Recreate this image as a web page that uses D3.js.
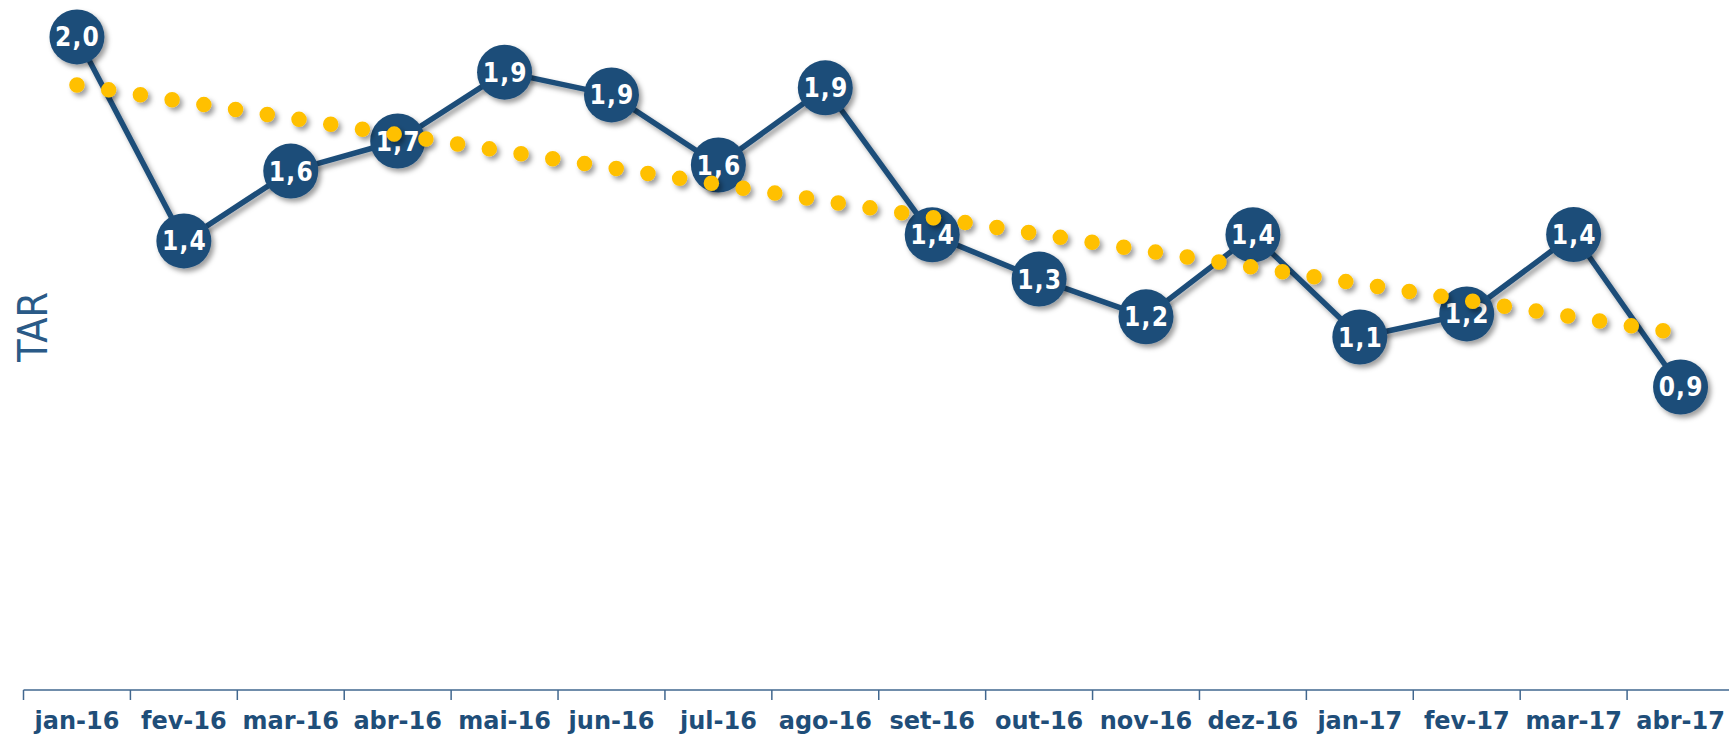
<!DOCTYPE html>
<html>
<head>
<meta charset="utf-8">
<script src="https://cdn.jsdelivr.net/npm/d3@7"></script>
<style>
  html, body { margin: 0; padding: 0; background: #ffffff; overflow: hidden; }
  svg { display: block; }
</style>
</head>
<body>
<svg id="chart" width="1729" height="738"></svg>
<script>
// ---- data ----
const categories = ["jan-16","fev-16","mar-16","abr-16","mai-16","jun-16","jul-16","ago-16",
                    "set-16","out-16","nov-16","dez-16","jan-17","fev-17","mar-17","abr-17"];
const tarValues = [2.039, 1.402, 1.620, 1.714, 1.929, 1.858, 1.639, 1.880,
                   1.421, 1.283, 1.165, 1.421, 1.102, 1.174, 1.422, 0.946];
// linear trend line endpoints (first and last category)
const trendCategories = ["jan-16", "abr-17"];
const trendValues = [1.889, 1.113];
const yAxisTitle = "TAR";

// ---- layout ----
const width = 1729, height = 738;
const svg = d3.select("#chart");
const blue = "#1F4E79";
const gold = "#FFC000";

const x = d3.scaleBand().domain(categories).range([23.5, 1734]).paddingInner(0).paddingOuter(0);
const y = d3.scaleLinear().domain([0, 2.0]).range([690, 49.4]);
const cx = d => x(d) + x.bandwidth() / 2;

const defs = svg.append("defs");
const f = defs.append("filter").attr("id", "shadow")
  .attr("x", "-30%").attr("y", "-30%").attr("width", "160%").attr("height", "160%");
f.append("feDropShadow").attr("dx", 3).attr("dy", 3.5).attr("stdDeviation", 2.6)
  .attr("flood-color", "#000").attr("flood-opacity", 0.38);

// ---- x axis ----
const xAxis = d3.axisBottom(x).tickSize(0).tickPadding(0).tickFormat(d => d);
const gx = svg.append("g").attr("transform", "translate(0,690)").call(xAxis);
gx.select(".domain").attr("stroke", "#41678F").attr("stroke-width", 1.5)
  .attr("d", "M23.5,0H1734");
gx.selectAll(".tick line").remove();
gx.selectAll(".tick text")
  .attr("y", 39).attr("dy", null)
  .attr("fill", blue)
  .attr("font-family", "'DejaVu Sans', sans-serif")
  .attr("font-weight", "bold")
  .attr("font-size", 24);
// tick marks on band boundaries
gx.selectAll(".bound").data(categories).enter().append("line")
  .attr("class", "bound")
  .attr("x1", d => x(d)).attr("x2", d => x(d))
  .attr("y1", 0).attr("y2", 10)
  .attr("stroke", "#41678F").attr("stroke-width", 1.5);

// ---- y title ----
svg.append("text")
  .attr("transform", "translate(47,327) rotate(-90)")
  .attr("text-anchor", "middle")
  .attr("fill", "#2A5A87")
  .attr("font-family", "'DejaVu Sans Condensed', 'DejaVu Sans', sans-serif")
  .attr("font-size", 41)
  .text(yAxisTitle);

// ---- main series ----
const line = d3.line().x((d, i) => cx(categories[i])).y(d => y(d));
svg.append("path")
  .datum(tarValues)
  .attr("d", line)
  .attr("fill", "none")
  .attr("stroke", blue)
  .attr("stroke-width", 5.5)
  .attr("stroke-linejoin", "round")
  .attr("filter", "url(#shadow)");

const pts = svg.append("g").selectAll("g").data(tarValues).enter().append("g")
  .attr("transform", (d, i) => `translate(${cx(categories[i])},${y(d)})`);
pts.append("circle").attr("r", 27.5).attr("fill", blue).attr("filter", "url(#shadow)");
const fmt = d3.format(".1f");
pts.append("text")
  .attr("text-anchor", "middle")
  .attr("x", 0.6)
  .attr("dy", 9.5)
  .attr("fill", "#ffffff")
  .attr("font-family", "'DejaVu Sans Condensed', 'DejaVu Sans', sans-serif")
  .attr("font-weight", "bold")
  .attr("font-size", 26)
  .attr("letter-spacing", 1.2)
  .text(d => fmt(d).replace(".", ","));

// ---- trend line (dotted) ----
const trendLine = d3.line().x((d, i) => cx(trendCategories[i])).y(d => y(d));
svg.append("path")
  .datum(trendValues)
  .attr("d", trendLine)
  .attr("fill", "none")
  .attr("stroke", gold)
  .attr("stroke-width", 15.5)
  .attr("stroke-linecap", "round")
  .attr("stroke-dasharray", "0 32.1")
  .attr("filter", "url(#shadow)");
</script>
</body>
</html>
